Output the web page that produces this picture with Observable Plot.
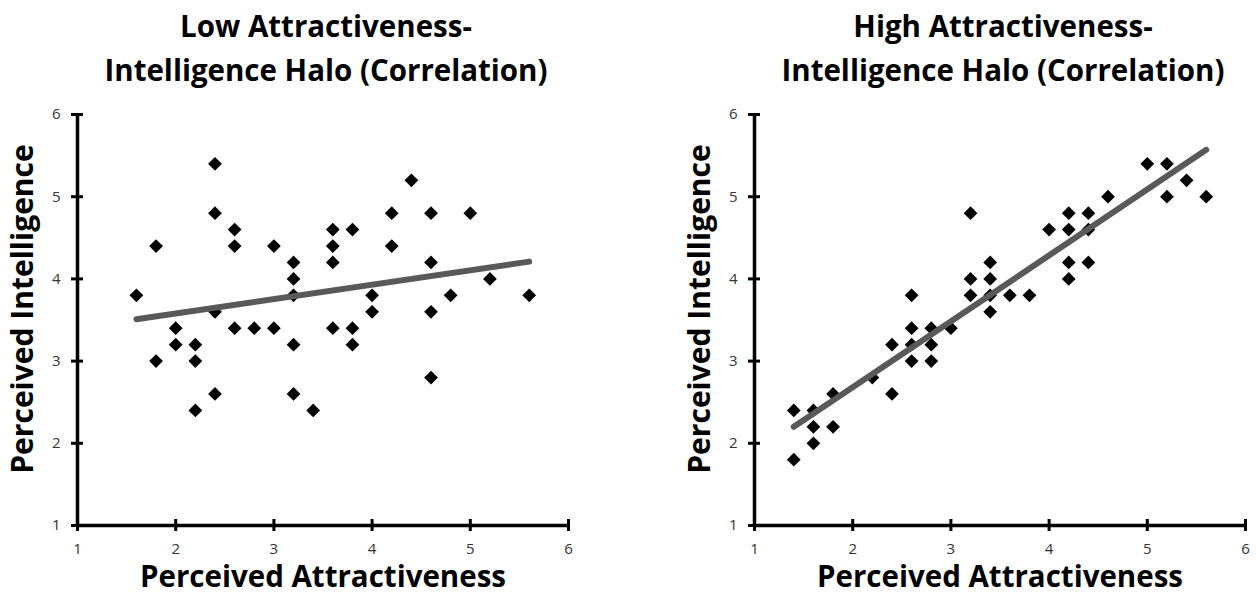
<!DOCTYPE html>
<html><head><meta charset="utf-8">
<script src="https://cdn.jsdelivr.net/npm/d3@7"></script>
<script src="https://cdn.jsdelivr.net/npm/@observablehq/plot@0.6"></script>
<style>
html,body{margin:0;padding:0;background:#fff;}
#wrap{position:relative;width:1256px;height:606px;overflow:hidden;background:#fff;}
#wrap svg{position:absolute;top:0;}
</style></head><body><div id="wrap"></div>
<script>
const lowAttract = [1.6,1.8,1.8,2.0,2.0,2.2,2.2,2.2,2.4,2.4,2.4,2.4,2.6,2.6,2.6,2.8,3.0,3.0,3.2,3.2,3.2,3.2,3.2,3.4,3.6,3.6,3.6,3.6,3.8,3.8,3.8,4.0,4.0,4.2,4.2,4.4,4.6,4.6,4.6,4.6,4.8,5.0,5.2,5.6];
const lowIntel = [3.8,4.4,3.0,3.4,3.2,3.2,3.0,2.4,5.4,4.8,3.6,2.6,4.6,4.4,3.4,3.4,4.4,3.4,4.2,4.0,3.8,3.2,2.6,2.4,4.6,4.4,4.2,3.4,4.6,3.4,3.2,3.8,3.6,4.8,4.4,5.2,4.8,4.2,3.6,2.8,3.8,4.8,4.0,3.8];
const lowTrendX = [1.6, 5.6];
const lowTrendY = [3.51, 4.21];

const highAttract = [1.4,1.4,1.6,1.6,1.6,1.8,1.8,2.2,2.4,2.4,2.6,2.6,2.6,2.6,2.8,2.8,2.8,3.0,3.2,3.2,3.2,3.4,3.4,3.4,3.4,3.6,3.8,4.0,4.2,4.2,4.2,4.2,4.4,4.4,4.4,4.6,5.0,5.2,5.2,5.4,5.6];
const highIntel = [2.4,1.8,2.4,2.2,2.0,2.6,2.2,2.8,3.2,2.6,3.8,3.4,3.2,3.0,3.4,3.2,3.0,3.4,4.8,4.0,3.8,4.2,4.0,3.8,3.6,3.8,3.8,4.6,4.8,4.6,4.2,4.0,4.8,4.6,4.2,5.0,5.4,5.4,5.0,5.2,5.0];
const highTrendX = [1.4, 5.6];
const highTrendY = [2.2, 5.57];

const axisTicks = [1, 2, 3, 4, 5, 6];
const lowTitle = ["Low Attractiveness-", "Intelligence Halo (Correlation)"];
const highTitle = ["High Attractiveness-", "Intelligence Halo (Correlation)"];
const xTitle = "Perceived Attractiveness";
const yTitle = "Perceived Intelligence";

function panel(xs, ys, tx, ty, title, marginLeft, marginRight, left) {
  const pts = xs.map((x, i) => ({x, y: ys[i]}));
  const trend = tx.map((x, i) => ({x, y: ty[i]}));
  const svg = Plot.plot({
    width: 628, height: 606,
    marginLeft, marginRight, marginTop: 114, marginBottom: 81,
    style: {fontFamily: "'Open Sans', sans-serif", fontSize: "15px", background: "transparent", overflow: "visible"},
    x: {domain: [1, 6], axis: null},
    y: {domain: [1, 6], axis: null},
    marks: [
      Plot.ruleX([1], {stroke: "black", strokeWidth: 3.5}),
      Plot.ruleY([1], {stroke: "black", strokeWidth: 3.5}),
      Plot.ruleX(axisTicks, {x: d => d, y1: 1, y2: 1, insetTop: -6, insetBottom: -6, stroke: "black", strokeWidth: 3}),
      Plot.ruleY(axisTicks, {y: d => d, x1: 1, x2: 1, insetLeft: -6, insetRight: -6, stroke: "black", strokeWidth: 3}),
      Plot.text(axisTicks, {x: d => d, y: 1, text: d => String(d), dy: 18, lineAnchor: "top", textAnchor: "middle", fontSize: 15, fill: "#333333"}),
      Plot.text(axisTicks, {x: 1, y: d => d, text: d => String(d), dx: -17, lineAnchor: "middle", textAnchor: "end", fontSize: 15, fill: "#333333"}),
      Plot.dot(pts, {x: "x", y: "y", symbol: "diamond2", r: 6.2, fill: "black", stroke: null}),
      Plot.line(trend, {x: "x", y: "y", stroke: "#595959", strokeWidth: 6, strokeLinecap: "round"}),
      Plot.text([title[0]], {text: d => d, frameAnchor: "top", textAnchor: "middle", dx: 3, dy: -87, fontSize: 29.5, fontWeight: "bold", lineAnchor: "middle", fill: "black"}),
      Plot.text([title[1]], {text: d => d, frameAnchor: "top", textAnchor: "middle", dx: 3, dy: -43, fontSize: 29.5, fontWeight: "bold", lineAnchor: "middle", fill: "black"}),
      Plot.text([xTitle], {text: d => d, frameAnchor: "bottom", textAnchor: "middle", dy: 52, fontSize: 29.5, fontWeight: "bold", lineAnchor: "middle", fill: "black"}),
      Plot.text([yTitle], {text: d => d, frameAnchor: "left", textAnchor: "middle", dx: -54, dy: -11, rotate: -90, fontSize: 30, fontWeight: "bold", lineAnchor: "middle", fill: "black"})
    ]
  });
  svg.style.left = left + "px";
  document.getElementById("wrap").appendChild(svg);
}

panel(lowAttract, lowIntel, lowTrendX, lowTrendY, lowTitle, 77, 60, 0);
panel(highAttract, highIntel, highTrendX, highTrendY, highTitle, 126, 11, 628);
</script>
</body></html>
